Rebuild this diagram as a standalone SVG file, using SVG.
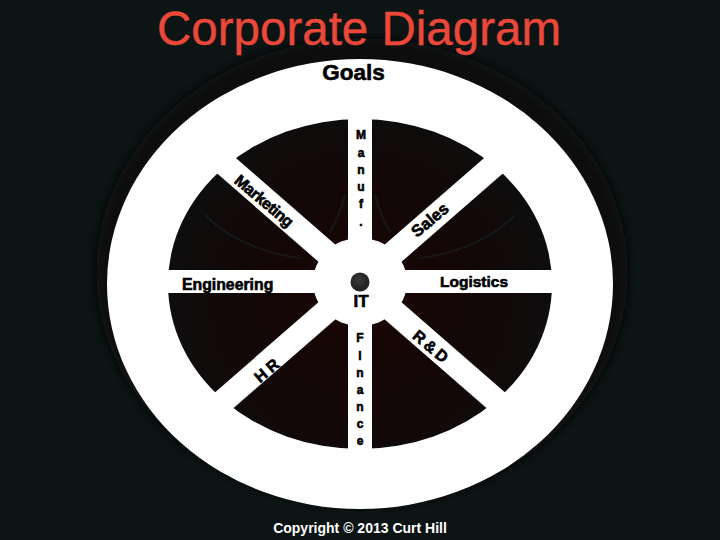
<svg xmlns="http://www.w3.org/2000/svg" width="720" height="540" viewBox="0 0 720 540">
  <style>
    .lbl { font-family: "Liberation Sans", Arial, sans-serif; font-weight: bold; fill: #000; stroke: #000; stroke-width: 0.6; }
    .vert { font-family: "Liberation Sans", Arial, sans-serif; font-weight: bold; font-size: 12px; fill: #000; stroke: #000; stroke-width: 0.6; text-anchor: middle; }
    .spoke { stroke: #fff; stroke-width: 24; stroke-linecap: butt; }
    .streak { fill: none; stroke: #1f3a3a; stroke-width: 2; opacity: 0.35; }
  </style>
  <defs>
    <radialGradient id="inner" cx="360" cy="300" r="190" gradientUnits="userSpaceOnUse">
      <stop offset="0" stop-color="#1a0606"/>
      <stop offset="0.6" stop-color="#130707"/>
      <stop offset="1" stop-color="#0e0d0d"/>
    </radialGradient>
    <radialGradient id="dot" cx="0.45" cy="0.4" r="0.6">
      <stop offset="0" stop-color="#3a3a3a"/>
      <stop offset="1" stop-color="#1e1e1e"/>
    </radialGradient>
    <filter id="blur" x="-20%" y="-20%" width="140%" height="140%">
      <feGaussianBlur stdDeviation="5"/>
    </filter>
  </defs>

  <rect width="720" height="540" fill="#0d1414"/>

  <g id="wheel">
    <ellipse cx="362" cy="272" rx="266" ry="234" fill="#070808" filter="url(#blur)"/>
    <ellipse cx="360" cy="284" rx="253" ry="225" fill="#ffffff"/>
    <ellipse cx="360" cy="284" rx="192" ry="165" fill="url(#inner)"/>
    <g id="streaks">
      <path class="streak" d="M205 215 Q240 250 300 258"/>
      <path class="streak" d="M515 215 Q480 250 420 258"/>
      <path class="streak" d="M330 232 Q340 215 345 195"/>
      <path class="streak" d="M390 232 Q380 215 375 195"/>
    </g>
  </g>

  <g id="title">
    <text x="359" y="45" text-anchor="middle" font-family="'Liberation Sans', Arial, sans-serif" font-size="47.5" fill="#e9483a" stroke="#e9483a" stroke-width="0.4">Corporate Diagram</text>
  </g>

  <g id="connectors">
    <line class="spoke" x1="360" y1="110" x2="360" y2="460"/>
    <line class="spoke" x1="160" y1="281.5" x2="560" y2="281.5" style="stroke-width:23"/>
    <line class="spoke" x1="190" y1="134" x2="530" y2="430"/>
    <line class="spoke" x1="530" y1="134" x2="190" y2="430"/>
    <ellipse cx="360" cy="282" rx="47" ry="44" fill="#ffffff"/>
  </g>

  <g id="hub">
    <circle cx="360" cy="282" r="9.5" fill="url(#dot)"/>
    <text class="lbl" x="361" y="307" font-size="17" text-anchor="middle">IT</text>
  </g>

  <g id="goals">
    <text class="lbl" x="353.5" y="80" font-size="22.5" text-anchor="middle">Goals</text>
  </g>

  <g id="manuf">
    <text class="vert" x="361" y="139">M</text>
    <text class="vert" x="361" y="157">a</text>
    <text class="vert" x="361" y="174">n</text>
    <text class="vert" x="361" y="191">u</text>
    <text class="vert" x="361" y="208">f</text>
    <text class="vert" x="361" y="226">.</text>
  </g>

  <g id="finance">
    <text class="vert" x="360" y="342">F</text>
    <text class="vert" x="360" y="360">i</text>
    <text class="vert" x="360" y="377">n</text>
    <text class="vert" x="360" y="394">a</text>
    <text class="vert" x="360" y="411">n</text>
    <text class="vert" x="360" y="428">c</text>
    <text class="vert" x="360" y="445">e</text>
  </g>

  <g id="marketing">
    <text class="lbl" font-size="16" text-anchor="middle" letter-spacing="-0.5" transform="translate(264,201) rotate(40)" y="5.5">Marketing</text>
  </g>

  <g id="sales">
    <text class="lbl" font-size="16.5" text-anchor="middle" transform="translate(430,220) rotate(-40)" y="5.5">Sales</text>
  </g>

  <g id="engineering">
    <text class="lbl" x="182" y="290" font-size="15.8">Engineering</text>
  </g>

  <g id="logistics">
    <text class="lbl" x="440" y="287" font-size="15.5">Logistics</text>
  </g>

  <g id="hr">
    <text class="lbl" font-size="16" text-anchor="middle" letter-spacing="4" transform="translate(268,369) rotate(-40)" y="6">HR</text>
  </g>

  <g id="rd">
    <text class="lbl" font-size="16" text-anchor="middle" letter-spacing="3" transform="translate(432,347) rotate(40)" y="6">R&amp;D</text>
  </g>

  <g id="copyright">
    <text x="360" y="533" text-anchor="middle" font-family="'Liberation Sans', Arial, sans-serif" font-weight="bold" font-size="14" fill="#ffffff">Copyright © 2013 Curt Hill</text>
  </g>
</svg>
